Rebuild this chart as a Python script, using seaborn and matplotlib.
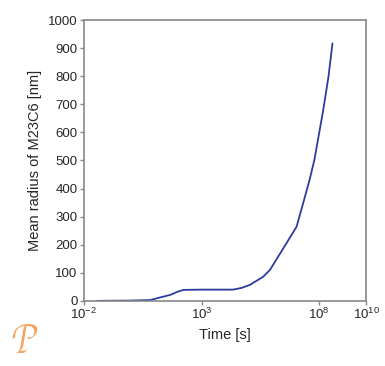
import matplotlib
matplotlib.use("Agg")
import matplotlib.pyplot as plt
import pandas as pd
import seaborn as sns

# values
time_s = [0.035, 1.0, 6.8, 17.0, 46.0, 100.0, 170.0, 1000.0, 22000.0,
          50000.0, 115000.0, 420000.0, 810000.0, 3.0e6, 1.1e7, 2.1e7,
          3.9e7, 6.3e7, 1.5e8, 2.5e8, 3.7e8]
radius_nm = [0, 1, 3, 12, 21, 33, 39, 40, 40, 46, 57, 86, 110, 187, 264,
             348, 430, 502, 680, 798, 917]

x_ticks = [1e-2, 1e3, 1e8, 1e10]
x_labels = ["$10^{-2}$", "$10^{3}$", "$10^{8}$", "$10^{10}$"]
y_ticks = list(range(0, 1001, 100))

df = pd.DataFrame({"time": time_s, "radius": radius_nm})

sns.set_style("white")
plt.rcParams["font.family"] = ["Liberation Sans", "DejaVu Sans"]
plt.rcParams["mathtext.fontset"] = "custom"
plt.rcParams["mathtext.rm"] = "Liberation Sans"
plt.rcParams["mathtext.it"] = "Liberation Sans"

fig = plt.figure(figsize=(3.85, 3.66), dpi=100)
ax = fig.add_axes([0.218, 0.178, 0.733, 0.767])

sns.lineplot(data=df, x="time", y="radius", ax=ax, color="#2b3c9e",
             linewidth=1.3)
ax.set_xscale("log")
ax.set_xlim(1e-2, 1e10)
ax.set_ylim(0, 1000)
ax.set_xticks(x_ticks)
ax.set_xticklabels(x_labels)
ax.minorticks_off()
ax.set_yticks(y_ticks)

for s in ax.spines.values():
    s.set_color("#888888")
    s.set_linewidth(1.2)
ax.tick_params(axis="both", direction="out", length=3, width=1,
               color="#888888", labelsize=9.5, pad=1.5,
               bottom=True, left=True)

ax.set_xlabel("Time [s]", fontsize=10.5, labelpad=4)
ax.set_ylabel("Mean radius of M23C6 [nm]", fontsize=10.5, labelpad=4)

# small orange logo mark at bottom left
fig.text(0.03, 0.035, r"$\mathcal{P}$", color="#f4a460", fontsize=27)

fig.savefig("out.png", dpi=100)
